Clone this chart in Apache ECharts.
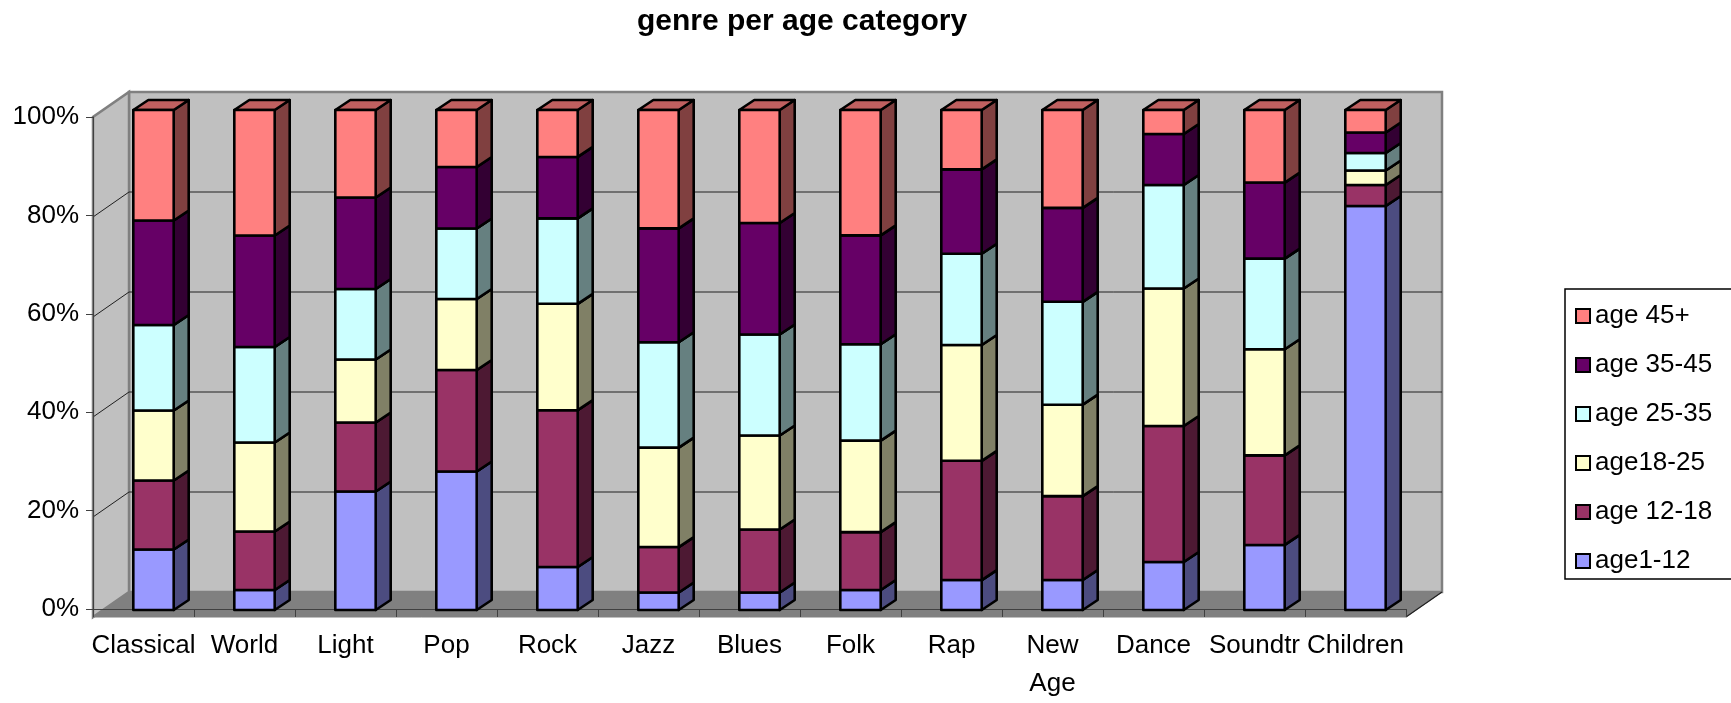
<!DOCTYPE html>
<html><head><meta charset="utf-8">
<script src="https://cdn.jsdelivr.net/npm/echarts@6/dist/echarts.min.js"></script>
<style>html,body{margin:0;padding:0;background:#fff}#c{width:1731px;height:703px}</style>
</head><body><div id="c"></div>
<script>
const categories = ['Classical','World','Light','Pop','Rock','Jazz','Blues','Folk','Rap','New Age','Dance','Soundtr','Children'];
const seriesNames = ['age1-12','age 12-18','age18-25','age 25-35','age 35-45','age 45+'];
const age1_12  = [12.1, 4.0, 23.7, 27.7,  8.6,  3.5,  3.5,  4.0,  6.0,  6.0,  9.6, 13.0, 80.8];
const age12_18 = [13.8, 11.7, 13.8, 20.3, 31.4,  9.1, 12.6, 11.6, 23.9, 16.8, 27.2, 17.9,  4.2];
const age18_25 = [14.0, 17.8, 12.6, 14.2, 21.3, 19.9, 18.8, 18.3, 23.2, 18.3, 27.5, 21.2,  2.9];
const age25_35 = [17.1, 19.1, 14.1, 14.1, 17.1, 21.1, 20.2, 19.3, 18.3, 20.6, 20.7, 18.1,  3.5];
const age35_45 = [20.9, 22.3, 18.3, 12.3, 12.3, 22.8, 22.3, 21.8, 16.9, 18.8, 10.2, 15.2,  4.1];
const age45p   = [22.1, 25.1, 17.5, 11.4,  9.4, 23.7, 22.6, 25.1, 11.9, 19.6,  4.8, 14.5,  4.5];
const yTicks = [0, 20, 40, 60, 80, 100];

const faceColors = ['#9999FF','#993366','#FFFFCC','#CCFFFF','#660066','#FF8080'];
const sideColors = ['#4C4C80','#4D1933','#808066','#668080','#330033','#804040'];
const topColors  = ['#7373BF','#73264D','#BFBF99','#99BFBF','#4D004D','#C06060'];

const groups = [age1_12, age12_18, age18_25, age25_35, age35_45, age45p];
const totals = categories.map((_, i) => groups.reduce((s, g) => s + g[i], 0));
const pct = groups.map(g => g.map((v, i) => v / totals[i] * 100));
const stackData = pct.map((g, k) => g.map((v, i) => {
  let base = 0; for (let j = 0; j < k; j++) base += pct[j][i];
  return [i, base, base + v];
}));

const BACK = [26, -18], FLOOR = [-10, 7], DEPTH = [15, -10];
const FONT = '"Liberation Sans", Arial, sans-serif';

function renderWalls(params, api) {
  const bw = api.size([1, 0])[0];
  const n = categories.length;
  const xl = api.coord([0, 0])[0] - bw / 2, xr = api.coord([n - 1, 0])[0] + bw / 2;
  const y0 = api.coord([0, 0])[1], y100 = api.coord([0, 100])[1];
  const P = (x, y, o) => [x + o[0], y + o[1]];
  const ch = [];
  ch.push({type: 'polygon', shape: {points: [P(xl, y0, BACK), P(xr, y0, BACK), P(xr, y100, BACK), P(xl, y100, BACK)]},
    style: {fill: '#C0C0C0', stroke: '#808080', lineWidth: 2.5}});
  ch.push({type: 'polygon', shape: {points: [P(xl, y0, FLOOR), P(xl, y100, FLOOR), P(xl, y100, BACK), P(xl, y0, BACK)]},
    style: {fill: '#C0C0C0', stroke: '#808080', lineWidth: 2.5}});
  ch.push({type: 'polygon', shape: {points: [P(xl, y0, FLOOR), P(xr, y0, FLOOR), P(xr, y0, BACK), P(xl, y0, BACK)]},
    style: {fill: '#808080', stroke: '#808080', lineWidth: 1}});
  yTicks.forEach(t => {
    if (t === 0 || t === 100) return;
    const y = api.coord([0, t])[1];
    ch.push({type: 'polyline', shape: {points: [P(xl, y, FLOOR), P(xl, y, BACK), P(xr, y, BACK)]},
      style: {fill: null, stroke: '#202020', lineWidth: 1}});
  });
  ch.push({type: 'polyline', shape: {points: [P(xr, y0, FLOOR), P(xr, y0, BACK)]},
    style: {fill: null, stroke: '#202020', lineWidth: 1.2}});
  return {type: 'group', children: ch};
}

function makeBarRender(k) {
  return function (params, api) {
    const idx = api.value(0), base = api.value(1), top = api.value(2);
    const pb = api.coord([idx, base]), pt = api.coord([idx, top]);
    const bw = api.size([1, 0])[0] * 0.4;
    const x0 = pb[0] - bw / 2, x1 = pb[0] + bw / 2, yb = pb[1], yt = pt[1];
    const dx = DEPTH[0], dy = DEPTH[1];
    const st = (fill) => ({fill: fill, stroke: '#000', lineWidth: 2.6, lineJoin: 'round'});
    return {type: 'group', children: [
      {type: 'polygon', shape: {points: [[x1, yb], [x1 + dx, yb + dy], [x1 + dx, yt + dy], [x1, yt]]}, style: st(sideColors[k])},
      {type: 'polygon', shape: {points: [[x0, yt], [x1, yt], [x1 + dx, yt + dy], [x0 + dx, yt + dy]]}, style: st(topColors[k])},
      {type: 'rect', shape: {x: x0, y: yt, width: bw, height: yb - yt}, style: st(faceColors[k])}
    ]};
  };
}

const series = [{
  type: 'custom', name: '_walls', xAxisIndex: 0, yAxisIndex: 0, silent: true, z: 0,
  renderItem: renderWalls, data: [[0, 0]], encode: {x: 0, y: 1}
}];
groups.forEach((g, k) => {
  series.push({
    type: 'custom', name: seriesNames[k], xAxisIndex: 0, yAxisIndex: 0, z: 2 + k,
    renderItem: makeBarRender(k), data: stackData[k], encode: {x: 0, y: [1, 2]},
    itemStyle: {color: faceColors[k], borderColor: '#000', borderWidth: 2}
  });
});

const chart = echarts.init(document.getElementById('c'), null, {renderer: 'canvas'});
chart.setOption({
  animation: false,
  backgroundColor: '#fff',
  title: {text: 'genre per age category', left: 632, top: 2,
    textStyle: {fontFamily: FONT, fontWeight: 'bold', fontSize: 30, color: '#000'}},
  grid: [
    {left: 103, width: 1313, top: 110, bottom: 93, containLabel: false},
    {left: 93, width: 1313, top: 117, bottom: 86, containLabel: false}
  ],
  xAxis: [
    {type: 'category', gridIndex: 0, data: categories, show: false},
    {type: 'category', gridIndex: 1, data: categories,
      axisLine: {show: true, lineStyle: {color: '#404040', width: 1}},
      axisTick: {show: true, length: 8, lineStyle: {color: '#404040'}},
      axisLabel: {fontFamily: FONT, fontSize: 26, color: '#000', margin: 18, lineHeight: 38, interval: 0,
        formatter: v => v.replace(' ', '\n')},
      splitLine: {show: false}}
  ],
  yAxis: [
    {type: 'value', gridIndex: 0, min: 0, max: 100, show: false},
    {type: 'value', gridIndex: 1, min: 0, max: 100, interval: 20,
      axisLine: {show: true, lineStyle: {color: '#404040', width: 1}},
      axisTick: {show: true, length: 7, lineStyle: {color: '#404040'}},
      axisLabel: {fontFamily: FONT, fontSize: 26, color: '#000', margin: 14, formatter: '{value}%'},
      splitLine: {show: false}}
  ],
  legend: {
    orient: 'vertical', left: 1565, top: 289,
    data: seriesNames.slice().reverse(),
    icon: 'rect', itemWidth: 14, itemHeight: 14, itemGap: 23,
    padding: [14, 24, 5, 10],
    borderColor: '#000', borderWidth: 1.5,
    itemStyle: {borderColor: '#000', borderWidth: 2},
    textStyle: {fontFamily: FONT, fontSize: 26, lineHeight: 24, color: '#000'}
  },
  series: series
});
</script></body></html>
